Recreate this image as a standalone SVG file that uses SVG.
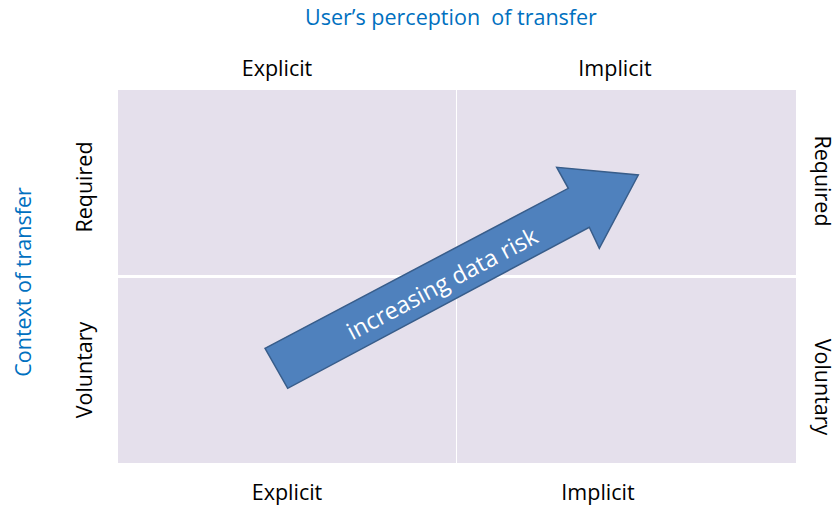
<svg xmlns="http://www.w3.org/2000/svg" width="839" height="505" viewBox="0 0 839 505">
<style>
.cell{fill:#E5E0EC}
.lbl{font-family:"Open Sans","Liberation Sans",sans-serif;font-size:21.5px;fill:#000;text-anchor:middle}
.ttl{font-family:"Open Sans","Liberation Sans",sans-serif;font-size:21.5px;fill:#0070C0;text-anchor:middle;white-space:pre}
.arr{fill:#4F81BD;stroke:#385D8A;stroke-width:1.5;stroke-linejoin:miter}
.atxt{font-family:"Open Sans","Liberation Sans",sans-serif;font-size:23.5px;fill:#fff;text-anchor:middle}
</style>
<rect width="839" height="505" fill="#fff"/>
<g id="grid">
<rect class="cell" x="118" y="90" width="338" height="185"/>
<rect class="cell" x="457" y="90" width="339" height="185"/>
<rect class="cell" x="118" y="278" width="338" height="185"/>
<rect class="cell" x="457" y="278" width="339" height="185"/>
</g>
<g id="title"><text class="ttl" x="451" y="25" xml:space="preserve">User’s perception  of transfer</text></g>
<g id="yaxis"><text class="ttl" transform="translate(31,282) rotate(-90)">Context of transfer</text></g>
<g id="top-labels">
<text class="lbl" x="277" y="76">Explicit</text>
<text class="lbl" x="615" y="76">Implicit</text>
</g>
<g id="bottom-labels">
<text class="lbl" x="287" y="500">Explicit</text>
<text class="lbl" x="598" y="500">Implicit</text>
</g>
<g id="left-labels">
<text class="lbl" transform="translate(92,187) rotate(-90)">Required</text>
<text class="lbl" transform="translate(92,370) rotate(-90)">Voluntary</text>
</g>
<g id="right-labels">
<text class="lbl" transform="translate(815,181) rotate(90)">Required</text>
<text class="lbl" transform="translate(815,387) rotate(90)">Voluntary</text>
</g>
<g id="connectors">
<g id="risk-arrow">
<polygon class="arr" points="265,348.3 568.3,188.3 556.7,167.3 638.3,175 599.3,248.3 589.3,227.3 287.7,388.3"/>
<text class="atxt" transform="translate(446,291) rotate(-27.8)">increasing data risk</text>
</g>
</g>
</svg>
